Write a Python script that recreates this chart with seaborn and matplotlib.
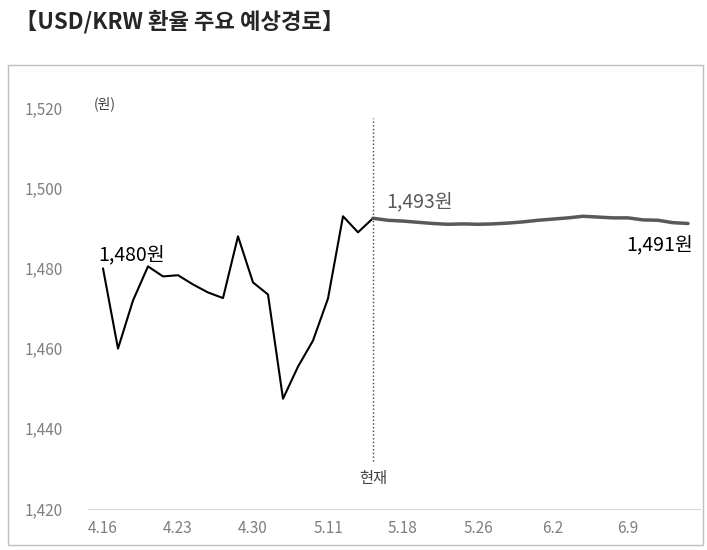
import matplotlib.pyplot as plt
import seaborn as sns
from matplotlib.patches import Rectangle

sns.set_style("white")
plt.rcParams['font.family'] = ['Noto Sans CJK KR', 'DejaVu Sans']

# trading-day index based data
hist_values = [1480, 1460, 1472, 1480.5, 1478, 1478.3, 1476, 1474, 1472.6, 1488,
               1476.5, 1473.5, 1447.5, 1455.5, 1462, 1472.5, 1493, 1489, 1492.5]
fcst_values = [1492.5, 1492, 1491.8, 1491.5, 1491.2, 1491, 1491.1, 1491, 1491.1, 1491.3,
               1491.6, 1492, 1492.3, 1492.6, 1493, 1492.8, 1492.6, 1492.6, 1492.1, 1492,
               1491.4, 1491.2]
tick_pos = [0, 5, 10, 15, 20, 25, 30, 35]
tick_labels = ['4.16', '4.23', '4.30', '5.11', '5.18', '5.26', '6.2', '6.9']
y_ticks = [1420, 1440, 1460, 1480, 1500, 1520]

hist_x = list(range(len(hist_values)))
now_idx = len(hist_values) - 1
fcst_x = list(range(now_idx, now_idx + len(fcst_values)))

fig = plt.figure(figsize=(7.07, 5.5), dpi=100)
fig.patches.append(Rectangle((8 / 707, 5 / 550), 695 / 707, 480 / 550, transform=fig.transFigure,
                             fill=False, edgecolor='#bfbfbf', linewidth=1))
fig.text(15 / 707, 1 - 22 / 550, '【USD/KRW 환율 주요 예상경로】', fontsize=16, fontweight='bold',
         va='center', ha='left')

ax = fig.add_axes([88 / 707, 1 - 509 / 550, 612 / 707, 401 / 550])
sns.lineplot(x=hist_x, y=hist_values, ax=ax, color='black', linewidth=1.5)
sns.lineplot(x=fcst_x, y=fcst_values, ax=ax, color='#595959', linewidth=2.5)
ax.plot([now_idx, now_idx], [1432, 1517.5], color='#404040', linestyle=':', linewidth=1)

ax.set_xlim(-1, 39.8)
ax.set_ylim(1420, 1520)
ax.set_xticks(tick_pos)
ax.set_xticklabels(tick_labels)
ax.set_yticks(y_ticks)
ax.set_yticklabels([f'{v:,}' for v in y_ticks])
ax.tick_params(axis='both', colors='#7f7f7f', labelsize=11, length=0)
ax.tick_params(axis='y', pad=18)
ax.tick_params(axis='x', pad=8)
for s in ['top', 'right', 'left']:
    ax.spines[s].set_visible(False)
ax.spines['bottom'].set_color('#d9d9d9')

ax.text(-0.6, 1521, '(원)', fontsize=10, color='#404040', va='center')
ax.text(-0.3, 1483.5, '1,480원', fontsize=14, color='black', va='center')
ax.text(now_idx + 0.9, 1496.5, '1,493원', fontsize=14, color='#595959', va='center')
ax.text(39.3, 1486, '1,491원', fontsize=14, color='black', va='center', ha='right')
ax.text(now_idx, 1427.5, '현재', fontsize=11, color='#404040', va='center', ha='center')

fig.savefig('out.png', dpi=100)
